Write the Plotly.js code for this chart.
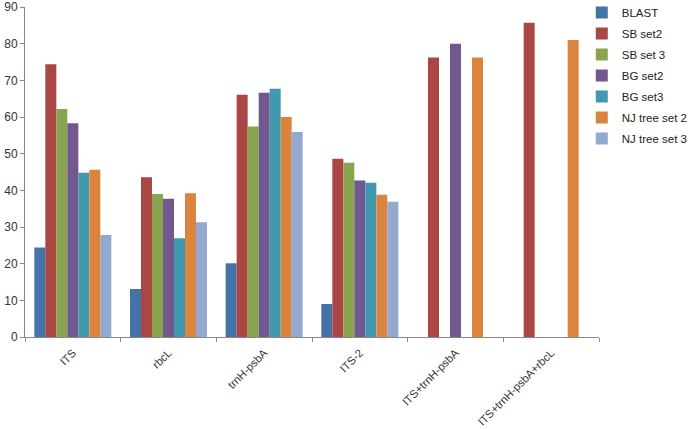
<!DOCTYPE html>
<html><head><meta charset="utf-8">
<script src="https://cdn.plot.ly/plotly-3.0.1.min.js"></script>
<style>html,body{margin:0;padding:0;background:#fff}</style>
</head><body>
<div id="chart" style="width:688px;height:429px"></div>
<script>
const categories = ["ITS", "rbcL", "trnH-psbA", "ITS-2", "ITS+trnH-psbA", "ITS+trnH-psbA+rbcL"];
const seriesNames = ["BLAST", "SB set2", "SB set 3", "BG set2", "BG set3", "NJ tree set 2", "NJ tree set 3"];
const blast     = [24.4, 13.1, 20.1, 9.0, null, null];
const sbSet2    = [74.4, 43.6, 66.1, 48.6, 76.2, 85.7];
const sbSet3    = [62.2, 39.0, 57.4, 47.5, null, null];
const bgSet2    = [58.3, 37.7, 66.6, 42.7, 80.0, null];
const bgSet3    = [44.8, 26.9, 67.7, 42.1, null, null];
const njSet2    = [45.6, 39.2, 60.0, 38.8, 76.2, 81.0];
const njSet3    = [27.8, 31.3, 55.9, 36.9, null, null];
const colors = ["#4572A7", "#AA4643", "#89A54E", "#71588F", "#4198AF", "#DB843D", "#93A9CF"];
const values = [blast, sbSet2, sbSet3, bgSet2, bgSet3, njSet2, njSet3];

const traces = values.map((v, i) => ({
  type: "bar", x: categories, y: v, name: seriesNames[i],
  legendgroup: "g" + i,
  marker: {color: colors[i], line: {width: 0}},
  hoverinfo: "y+name"
}));

const layout = {
  width: 688, height: 429,
  margin: {l: 25, r: 89, t: 7, b: 92, autoexpand: false},
  paper_bgcolor: "#fff", plot_bgcolor: "#fff",
  font: {family: "Liberation Sans, Arial, sans-serif", size: 11, color: "#333"},
  barmode: "group", bargap: 0.195, bargroupgap: 0,
  showlegend: true,
  legend: {x: 0.970, y: 1.027, xanchor: "left", yanchor: "top",
           font: {size: 11.5, color: "#222"}, itemwidth: 30, tracegroupgap: 2,
           traceorder: "grouped", bgcolor: "rgba(0,0,0,0)"},
  xaxis: {type: "category", showgrid: false, showline: true, linecolor: "#888", linewidth: 1,
          ticks: "outside", tickson: "boundaries", ticklen: 4, tickcolor: "#888", automargin: false,
          tickangle: -45, ticklabelstandoff: 4, tickfont: {size: 11.2, color: "#333"}, zeroline: false},
  yaxis: {range: [0, 90], dtick: 10, showgrid: false, showline: true, linecolor: "#888", linewidth: 1,
          ticks: "outside", ticklen: 4, tickcolor: "#888", zeroline: false, automargin: false,
          tickfont: {size: 12, color: "#333"}}
};
Plotly.newPlot("chart", traces, layout, {displayModeBar: false, staticPlot: true});
</script>
</body></html>
